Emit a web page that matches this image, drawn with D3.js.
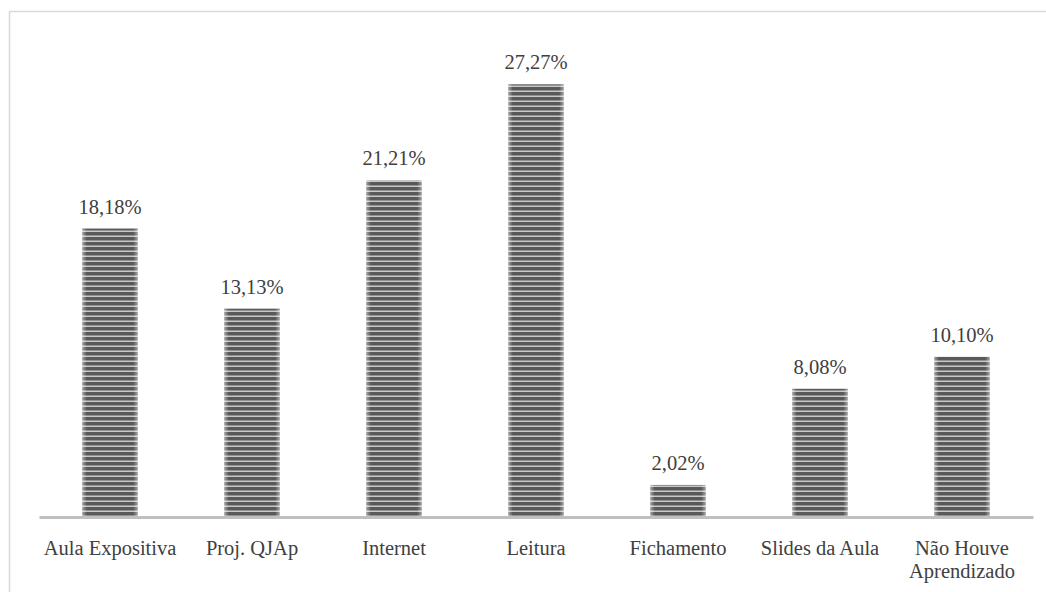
<!DOCTYPE html>
<html>
<head>
<meta charset="utf-8">
<script src="https://cdn.jsdelivr.net/npm/d3@7"></script>
<style>
  html, body { margin: 0; padding: 0; background: #fff; }
  svg { display: block; }
</style>
</head>
<body>
<svg id="chart" width="1046" height="592"></svg>
<script>
// Categories (label lines) and their percentage values
const categories = [
  ["Aula Expositiva"],
  ["Proj. QJAp"],
  ["Internet"],
  ["Leitura"],
  ["Fichamento"],
  ["Slides da Aula"],
  ["Não Houve", "Aprendizado"]
];
const values = [18.18, 13.13, 21.21, 27.27, 2.02, 8.08, 10.10];
const valueLabels = ["18,18%", "13,13%", "21,21%", "27,27%", "2,02%", "8,08%", "10,10%"];

const svg = d3.select("#chart");
const W = 1046, H = 592;
const left = 39, right = 1033, baseY = 517, topY = 41;
const fontFamily = "'Liberation Serif', 'Times New Roman', serif";
const fontSize = 20.5;

// outer frame
svg.append("rect")
  .attr("x", 9.5).attr("y", 11.5)
  .attr("width", W + 10).attr("height", H + 10)
  .attr("fill", "none").attr("stroke", "#d9d9d9").attr("stroke-width", 1.5);

const defs = svg.append("defs");
// horizontal stripe fill
const pat = defs.append("pattern")
  .attr("id", "stripes").attr("patternUnits", "userSpaceOnUse")
  .attr("x", 0).attr("y", baseY).attr("width", 8).attr("height", 5);
pat.append("rect").attr("width", 8).attr("height", 5).attr("fill", "#595959");
pat.append("rect").attr("y", 3.5).attr("width", 8).attr("height", 1.5).attr("fill", "#c8c8c8");

// soft lighter edges on each bar
const grad = defs.append("linearGradient").attr("id", "edge")
  .attr("x1", "0").attr("x2", "1").attr("y1", "0").attr("y2", "0");
[[0, 0.45], [0.08, 0.0], [0.92, 0.0], [1, 0.45]].forEach(([o, a]) => {
  grad.append("stop").attr("offset", o).attr("stop-color", "#fff").attr("stop-opacity", a);
});

const x = d3.scaleBand()
  .domain(d3.range(categories.length))
  .range([left, right])
  .paddingInner(0.61).paddingOuter(0.305);

const y = d3.scaleLinear().domain([0, 30]).range([baseY, topY]);

const bars = svg.append("g").selectAll("g")
  .data(values).join("g");

bars.append("rect")
  .attr("x", (d, i) => x(i)).attr("y", d => y(d))
  .attr("width", x.bandwidth()).attr("height", d => baseY - y(d))
  .attr("fill", "url(#stripes)");
bars.append("rect")
  .attr("x", (d, i) => x(i)).attr("y", d => y(d))
  .attr("width", x.bandwidth()).attr("height", d => baseY - y(d))
  .attr("fill", "url(#edge)");

// value labels
svg.append("g").selectAll("text")
  .data(values).join("text")
  .attr("x", (d, i) => x(i) + x.bandwidth() / 2)
  .attr("y", d => y(d) - 15)
  .attr("text-anchor", "middle")
  .attr("font-family", fontFamily)
  .attr("font-size", fontSize)
  .attr("fill", "#404040")
  .text((d, i) => valueLabels[i]);

// baseline axis
const xAxis = d3.axisBottom(x).tickSize(0).tickFormat("");
const axisG = svg.append("g").attr("transform", `translate(0,${baseY})`).call(xAxis);
axisG.select(".domain").attr("stroke", "#bfbfbf").attr("stroke-width", 3);

// category labels
const catG = svg.append("g").selectAll("text")
  .data(categories).join("text")
  .attr("text-anchor", "middle")
  .attr("font-family", fontFamily)
  .attr("font-size", fontSize)
  .attr("fill", "#404040")
  .attr("transform", (d, i) => `translate(${x(i) + x.bandwidth() / 2},${baseY + 38})`);
catG.selectAll("tspan")
  .data(d => d).join("tspan")
  .attr("x", 0).attr("dy", (d, j) => j === 0 ? 0 : 23)
  .text(d => d);
</script>
</body>
</html>
